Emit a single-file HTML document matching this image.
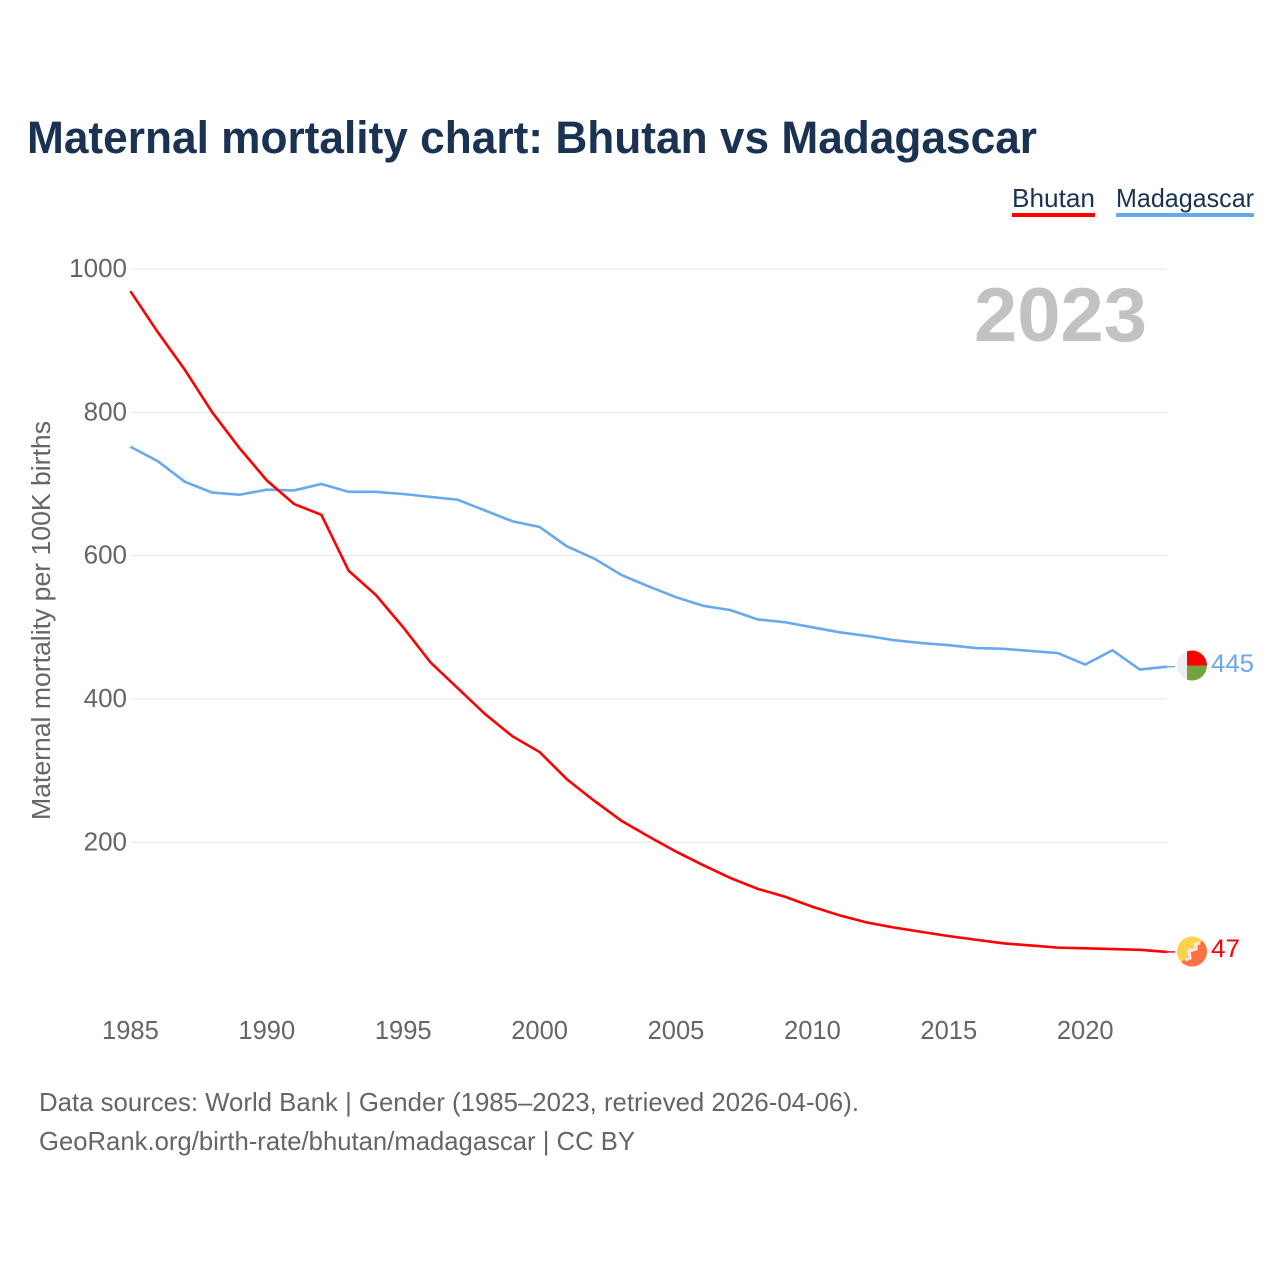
<!DOCTYPE html>
<html lang="en">
<head>
<meta charset="utf-8">
<title>Maternal mortality chart: Bhutan vs Madagascar</title>
<style>
html,body{margin:0;padding:0;background:#fff;width:1280px;height:1280px;overflow:hidden}
svg{display:block;font-family:"Liberation Sans",sans-serif}
</style>
</head>
<body>
<svg id="chart" xmlns="http://www.w3.org/2000/svg" width="1280" height="1280" viewBox="0 0 1280 1280">
  <defs>
    <clipPath id="flag-clip-mg"><circle cx="1192" cy="665.5" r="15"/></clipPath>
    <clipPath id="flag-clip-bt"><circle cx="1192" cy="951.5" r="15"/></clipPath>
  </defs>
  <rect x="0" y="0" width="1280" height="1280" fill="#ffffff"/>
  <text x="27" y="153" font-size="45" font-weight="700" fill="#1a3353" textLength="1010" lengthAdjust="spacingAndGlyphs">Maternal mortality chart: Bhutan vs Madagascar</text>

  <g>
    <text x="1012" y="207" font-size="26" fill="#1a3353" textLength="83" lengthAdjust="spacingAndGlyphs">Bhutan</text>
    <rect x="1012" y="213" width="83" height="4" fill="#ff0000"/>
  </g>
  <g>
    <text x="1116" y="207" font-size="26" fill="#1a3353" textLength="138" lengthAdjust="spacingAndGlyphs">Madagascar</text>
    <rect x="1116" y="213" width="138" height="4" fill="#68a9ee"/>
  </g>

  <g id="grid"></g>
  <g id="y-ticks"></g>
  <g id="x-ticks"></g>

  <text transform="translate(50 820) rotate(-90)" font-size="25.5" fill="#62666b" textLength="399" lengthAdjust="spacingAndGlyphs">Maternal mortality per 100K births</text>
  <text x="974" y="341" font-size="76" font-weight="700" fill="#c2c2c2" textLength="173" lengthAdjust="spacingAndGlyphs">2023</text>

  <g id="series"></g>

  <g>
    <g clip-path="url(#flag-clip-mg)">
      <rect x="1177" y="650" width="10" height="31" fill="#eeeeef"/>
      <rect x="1187" y="650" width="20" height="15.5" fill="#ff0000"/>
      <rect x="1187" y="665.5" width="20" height="15.5" fill="#76a341"/>
    </g>
  </g>
  <g>
    <g clip-path="url(#flag-clip-bt)">
      <rect x="1177" y="936" width="30" height="31" fill="#ffd24d"/>
      <polygon points="1207,936 1207,967 1177,967" fill="#ff7043"/>
      <polyline points="1185,960 1190,958 1189,951 1196,949 1196,944 1200,943" fill="none" stroke="#f0ece4" stroke-width="3.2"/>
    </g>
  </g>

  <text id="label-madagascar" x="1211" y="672" font-size="25" fill="#68a9ee" textLength="43" lengthAdjust="spacingAndGlyphs"></text>
  <text id="label-bhutan" x="1211" y="957" font-size="25" fill="#ff0000" textLength="29" lengthAdjust="spacingAndGlyphs"></text>

  <text x="39" y="1111" font-size="26" fill="#62666b" textLength="820" lengthAdjust="spacingAndGlyphs">Data sources: World Bank | Gender (1985–2023, retrieved 2026-04-06).</text>
  <text x="39" y="1150" font-size="26" fill="#62666b" textLength="596" lengthAdjust="spacingAndGlyphs">GeoRank.org/birth-rate/bhutan/madagascar | CC BY</text>
</svg>
<script>
const years = [1985,1986,1987,1988,1989,1990,1991,1992,1993,1994,1995,1996,1997,1998,1999,2000,2001,2002,2003,2004,2005,2006,2007,2008,2009,2010,2011,2012,2013,2014,2015,2016,2017,2018,2019,2020,2021,2022,2023];
const bhutan = [969,912,859,800,750,705,672,657,579,545,500,451,415,379,348,326,288,258,230,208,187,168,150,135,124,110,98,88,81,75,69,64,59,56,53,52,51,50,47];
const madagascar = [752,732,703,688,685,692,691,700,689,689,686,682,678,663,648,640,613,596,573,557,542,530,524,511,507,500,493,488,482,478,475,471,470,467,464,448,468,441,445];
const yTickValues = [200,400,600,800,1000];
const xTickValues = [1985,1990,1995,2000,2005,2010,2015,2020];

const NS = 'http://www.w3.org/2000/svg';
const xScale = function (year) { return 130.4 + (year - 1985) * 27.28; };
const yScale = function (value) { return 985.6 - value * 0.7166; };

const grid = document.getElementById('grid');
const yTicks = document.getElementById('y-ticks');
const xTicks = document.getElementById('x-ticks');
const seriesGroup = document.getElementById('series');

yTickValues.forEach(function (v) {
  const line = document.createElementNS(NS, 'line');
  
  
  line.setAttribute('x1', 131);
  line.setAttribute('x2', 1167);
  line.setAttribute('y1', yScale(v));
  line.setAttribute('y2', yScale(v));
  line.setAttribute('stroke', '#e6e6e6');
  line.setAttribute('stroke-width', 1);
  grid.appendChild(line);

  const label = document.createElementNS(NS, 'text');
  
  
  label.setAttribute('x', 127);
  label.setAttribute('y', yScale(v) + 8);
  label.setAttribute('text-anchor', 'end');
  label.setAttribute('font-size', 26);
  label.setAttribute('fill', '#62666b');
  label.textContent = String(v);
  yTicks.appendChild(label);
});

xTickValues.forEach(function (y) {
  const label = document.createElementNS(NS, 'text');
  
  
  label.setAttribute('x', xScale(y));
  label.setAttribute('y', 1039);
  label.setAttribute('text-anchor', 'middle');
  label.setAttribute('font-size', 25.5);
  label.setAttribute('fill', '#62666b');
  label.textContent = String(y);
  xTicks.appendChild(label);
});

function pathFor(values) {
  return values.map(function (v, i) {
    return (i ? 'L' : 'M') + xScale(years[i]).toFixed(2) + ' ' + yScale(v).toFixed(2);
  }).join(' ');
}

const lineMadagascar = document.createElementNS(NS, 'path');


lineMadagascar.setAttribute('d', pathFor(madagascar));
lineMadagascar.setAttribute('fill', 'none');
lineMadagascar.setAttribute('stroke', '#68a9ee');
lineMadagascar.setAttribute('stroke-width', 2.6);
seriesGroup.appendChild(lineMadagascar);

const lineBhutan = document.createElementNS(NS, 'path');


lineBhutan.setAttribute('d', pathFor(bhutan));
lineBhutan.setAttribute('fill', 'none');
lineBhutan.setAttribute('stroke', '#ff0000');
lineBhutan.setAttribute('stroke-width', 2.6);
seriesGroup.appendChild(lineBhutan);

const lastMadagascar = madagascar[madagascar.length - 1];
const lastBhutan = bhutan[bhutan.length - 1];
const lastYear = years[years.length - 1];

const leaderMadagascar = document.createElementNS(NS, 'line');


leaderMadagascar.setAttribute('x1', xScale(lastYear));
leaderMadagascar.setAttribute('x2', xScale(lastYear) + 8);
leaderMadagascar.setAttribute('y1', yScale(lastMadagascar));
leaderMadagascar.setAttribute('y2', yScale(lastMadagascar));
leaderMadagascar.setAttribute('stroke', '#68a9ee');
leaderMadagascar.setAttribute('stroke-width', 1.4);
seriesGroup.appendChild(leaderMadagascar);

const leaderBhutan = document.createElementNS(NS, 'line');


leaderBhutan.setAttribute('x1', xScale(lastYear));
leaderBhutan.setAttribute('x2', xScale(lastYear) + 8);
leaderBhutan.setAttribute('y1', yScale(lastBhutan));
leaderBhutan.setAttribute('y2', yScale(lastBhutan));
leaderBhutan.setAttribute('stroke', '#ff0000');
leaderBhutan.setAttribute('stroke-width', 1.4);
seriesGroup.appendChild(leaderBhutan);

document.getElementById('label-madagascar').textContent = String(lastMadagascar);
document.getElementById('label-bhutan').textContent = String(lastBhutan);
</script>
</body>
</html>
